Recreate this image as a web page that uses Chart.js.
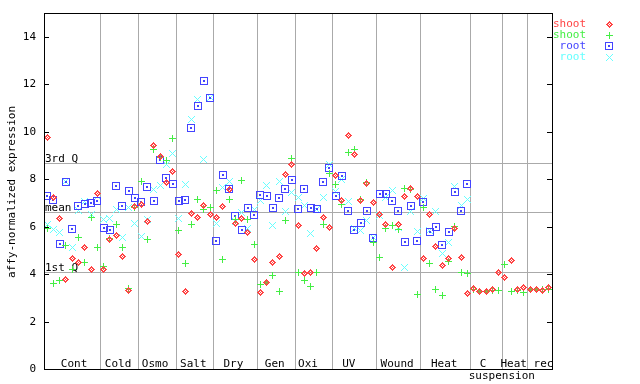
<!DOCTYPE html>
<html>
<head>
<meta charset="utf-8">
<script src="https://cdn.jsdelivr.net/npm/chart.js@4/dist/chart.umd.min.js"></script>
<style>
	html, body { margin: 0; padding: 0; background: #fff; }
	#wrap { width: 640px; height: 384px; }
</style>
</head>
<body>
<div id="wrap"><canvas id="chart" width="640" height="384"></canvas></div>
<script>
// samples per treatment group, left to right
const groupSizes = [9, 6, 6, 6, 7, 6, 6, 7, 7, 8, 5, 4, 4];

// labels written inside the plot, with the x value (sample units) they are centred on
const groupLabels = ["Cont", "Cold", "Osmo", "Salt", "Dry", "Gen", "Oxi", "UV", "Wound", "Heat", "C", "suspension", "Heat rec"];
const groupLabelAt = [4.8, 11.8, 17.7, 23.8, 30.2, 36.8, 42.1, 48.6, 56.3, 63.8, 70.0, 73.0, 77.0];
const groupLabelRow = [0, 0, 0, 0, 0, 0, 0, 0, 0, 0, 0, 1, 0];

const yTicks = [0, 2, 4, 6, 8, 10, 12, 14];

const refValues = [8.68, 6.62, 4.09];
const refLabels = ["3rd Q", "mean", "1st Q"];

const shootRed = [
	9.76, 7.24, 6.35, 3.79, 4.66, 4.49, 5.14, 4.20, 7.39,
	4.20, 5.47, 5.63, 4.75, 3.30, 6.84,
	6.94, 6.22, 9.43, 8.96, 7.87, 8.33,
	4.83, 3.27, 6.56, 6.39, 6.90, 6.52,
	6.39, 6.86, 7.57, 6.14, 6.35, 5.75, 4.62,
	3.23, 3.65, 4.50, 4.75, 8.21, 8.63,
	6.06, 4.03, 4.07, 5.09, 6.39, 5.97,
	8.16, 7.11, 9.82, 9.05, 7.11, 7.83, 7.02,
	6.52, 6.10, 4.26, 6.10, 7.28, 7.62, 7.28,
	4.66, 6.52, 5.17, 4.37, 4.66, 5.93, 4.71, 3.19,
	3.39, 3.26, 3.26, 3.33, 4.07,
	3.86, 4.59, 3.33, 3.43,
	3.36, 3.36, 3.30, 3.44
];
const shootGreen = [
	5.93, 3.61, 3.72, 5.21, 4.20, 5.52, 4.49, 6.39, 5.13,
	4.31, 5.51, 6.10, 5.10, 3.40, 6.80,
	7.91, 5.47, 9.26, 8.90, 8.79, 9.73,
	5.84, 4.45, 6.10, 7.15, 6.73, 6.81,
	7.53, 4.62, 7.15, 6.30, 7.95, 6.31, 5.25,
	3.57, 3.65, 3.95, 3.27, 6.27, 8.88,
	4.07, 3.74, 3.47, 4.07, 6.10, 8.25,
	7.78, 6.94, 9.13, 9.26, 7.15, 7.87, 5.33,
	4.71, 5.93, 6.06, 5.89, 7.62, 7.57, 3.15,
	6.81, 4.45, 3.33, 3.11, 4.54, 6.00, 4.07, 4.03,
	3.33, 3.27, 3.27, 3.32, 3.32,
	4.42, 3.26, 3.30, 3.23,
	3.36, 3.36, 3.36, 3.33
];
const rootBlue = [
	7.28, 7.11, 5.25, 7.89, 5.90, 6.86, 6.95, 7.00, 7.08,
	5.94, 5.86, 7.71, 6.86, 7.50, 7.21,
	7.02, 7.66, 7.07, 8.79, 8.04, 7.78,
	7.07, 7.11, 10.14, 11.07, 12.12, 11.42,
	5.38, 8.16, 7.57, 6.43, 5.84, 6.77, 6.48,
	7.32, 7.29, 6.77, 7.19, 7.57, 7.95,
	6.73, 7.57, 6.77, 6.73, 7.86, 8.46,
	7.28, 8.12, 6.65, 5.84, 6.14, 6.65, 5.50,
	7.36, 7.36, 7.07, 6.65, 5.34, 6.86, 5.38,
	7.05, 5.79, 5.97, 5.21, 5.76, 7.47, 6.65, 7.78,
	null, null, null, null, null,
	null, null, null, null,
	null, null, null, null
];
const rootCyan = [
	6.10, 5.86, 5.76, 7.90, 5.11, 6.67, 7.05, 6.49, 7.28,
	6.32, 6.35, 6.70, 5.52, 6.80, 6.11,
	5.60, 6.31, 7.57, 7.74, 8.63, 9.09,
	6.35, 7.78, 10.52, 11.37, 8.84, 11.44,
	6.14, 7.66, 7.91, 6.20, 6.59, 5.91, 6.70,
	7.08, 7.74, 6.06, 7.91, 6.64, 7.44,
	7.24, 6.90, 5.72, 6.74, 7.24, 8.60,
	7.50, 7.99, 7.07, 5.93, 5.84, 6.27, 5.52,
	6.48, 7.24, 7.53, 5.97, 4.26, 6.65, 5.80,
	7.19, 5.82, 6.63, 4.88, 5.34, 7.68, 6.90, 7.15,
	null, null, null, null, null,
	null, null, null, null,
	null, null, null, null
];

const sampleCount = groupSizes.reduce((a, b) => a + b, 0);
const FONT = "11px 'DejaVu Sans Mono', monospace";

function toPoints(values) {
	const points = [];
	values.forEach((v, i) => {
		if (v !== null) {
			points.push({ x: i + 0.5, y: v });
		}
	});
	return points;
}

// small pixel markers like the original plot
function makeMarker(kind, color) {
	const size = kind === "square" ? 8 : 7;
	const c = document.createElement("canvas");
	c.width = size;
	c.height = size;
	const ctx = c.getContext("2d");
	ctx.fillStyle = color;
	const px = (x, y) => ctx.fillRect(x, y, 1, 1);
	if (kind === "diamond") {
		for (let y = 0; y < 7; y++) {
			for (let x = 0; x < 7; x++) {
				const d = Math.abs(x - 3) + Math.abs(y - 3);
				if (d <= 3 && (d === 3 || (x + y) % 2 === 0)) {
					px(x, y);
				}
			}
		}
	}
	else if (kind === "plus") {
		for (let k = 0; k < 7; k++) {
			px(k, 3);
			px(3, k);
		}
	}
	else if (kind === "square") {
		ctx.strokeStyle = color;
		ctx.lineWidth = 1;
		ctx.strokeRect(0.5, 0.5, 7, 7);
		ctx.fillRect(3, 3, 2, 2);
	}
	else {
		for (let k = 0; k < 7; k++) {
			px(k, k);
			px(6 - k, k);
		}
	}
	return c;
}

const seriesColors = ["#ff4444", "#44ee44", "#4444ff", "#66ffff"];

const datasets = [
	{ label: "shoot", data: toPoints(shootRed), pointStyle: makeMarker("diamond", seriesColors[0]), color: seriesColors[0] },
	{ label: "shoot", data: toPoints(shootGreen), pointStyle: makeMarker("plus", seriesColors[1]), color: seriesColors[1] },
	{ label: "root", data: toPoints(rootBlue), pointStyle: makeMarker("square", seriesColors[2]), color: seriesColors[2] },
	{ label: "root", data: toPoints(rootCyan), pointStyle: makeMarker("cross", seriesColors[3]), color: seriesColors[3] }
];

const framePlugin = {
	id: "frame",
	beforeDatasetsDraw(chart) {
		const { ctx, chartArea: a, scales: { x, y } } = chart;
		ctx.save();
		ctx.strokeStyle = "#aaaaaa";
		ctx.lineWidth = 1;

		// group boundaries
		let edge = 0;
		groupSizes.slice(0, -1).forEach((n) => {
			edge += n;
			const px = Math.round(x.getPixelForValue(edge)) + 0.5;
			ctx.beginPath();
			ctx.moveTo(px, a.top);
			ctx.lineTo(px, a.bottom);
			ctx.stroke();
		});

		// quartile and mean lines
		ctx.font = FONT;
		ctx.fillStyle = "#000";
		ctx.textAlign = "left";
		ctx.textBaseline = "alphabetic";
		refValues.forEach((v, i) => {
			const py = Math.round(y.getPixelForValue(v)) + 0.5;
			ctx.beginPath();
			ctx.moveTo(a.left, py);
			ctx.lineTo(a.right, py);
			ctx.stroke();
			ctx.fillText(refLabels[i], a.left + 1, py - 2);
		});

		// group names
		ctx.textAlign = "center";
		groupLabels.forEach((t, i) => {
			const px = x.getPixelForValue(groupLabelAt[i]);
			ctx.fillText(t, px, a.bottom - 2 + groupLabelRow[i] * 12);
		});
		ctx.restore();
		// keep the pixel markers crisp
		ctx.imageSmoothingEnabled = false;
	},
	afterDatasetsDraw(chart) {
		chart.ctx.imageSmoothingEnabled = true;
	},
	afterDraw(chart) {
		const { ctx, chartArea: a, scales: { y } } = chart;
		ctx.save();
		ctx.strokeStyle = "#000";
		ctx.lineWidth = 1;
		ctx.strokeRect(a.left + 0.5, a.top + 0.5, a.right - a.left, a.bottom - a.top);

		ctx.font = FONT;
		ctx.fillStyle = "#000";
		ctx.textAlign = "right";
		ctx.textBaseline = "middle";
		yTicks.forEach((t) => {
			const py = Math.round(y.getPixelForValue(t)) + 0.5;
			ctx.beginPath();
			ctx.moveTo(a.left, py);
			ctx.lineTo(a.left + 5, py);
			ctx.moveTo(a.right - 5, py);
			ctx.lineTo(a.right, py);
			ctx.stroke();
			ctx.fillText(String(t), a.left - 8, py);
		});

		// axis title
		ctx.save();
		ctx.translate(12, (a.top + a.bottom) / 2 + 1);
		ctx.rotate(-Math.PI / 2);
		ctx.textAlign = "center";
		ctx.fillText("affy-normalized expression", 0, 0);
		ctx.restore();

		// legend
		ctx.imageSmoothingEnabled = false;
		chart.data.datasets.forEach((ds, i) => {
			const ly = 24 + i * 11;
			ctx.fillStyle = ds.color;
			ctx.textAlign = "right";
			ctx.fillText(ds.label, 586, ly);
			const img = ds.pointStyle;
			ctx.drawImage(img, 609 - Math.floor(img.width / 2), ly - Math.floor(img.height / 2));
		});
		ctx.restore();
	}
};

new Chart(document.getElementById("chart"), {
	type: "scatter",
	data: { datasets },
	options: {
		responsive: false,
		devicePixelRatio: 1,
		animation: false,
		layout: { padding: { left: 44, right: 88, top: 13, bottom: 15 } },
		plugins: { legend: { display: false }, tooltip: { enabled: false } },
		scales: {
			x: { type: "linear", min: 0, max: sampleCount, display: false },
			y: { type: "linear", min: 0, max: 15, display: false }
		}
	},
	plugins: [framePlugin]
});
</script>
</body>
</html>
